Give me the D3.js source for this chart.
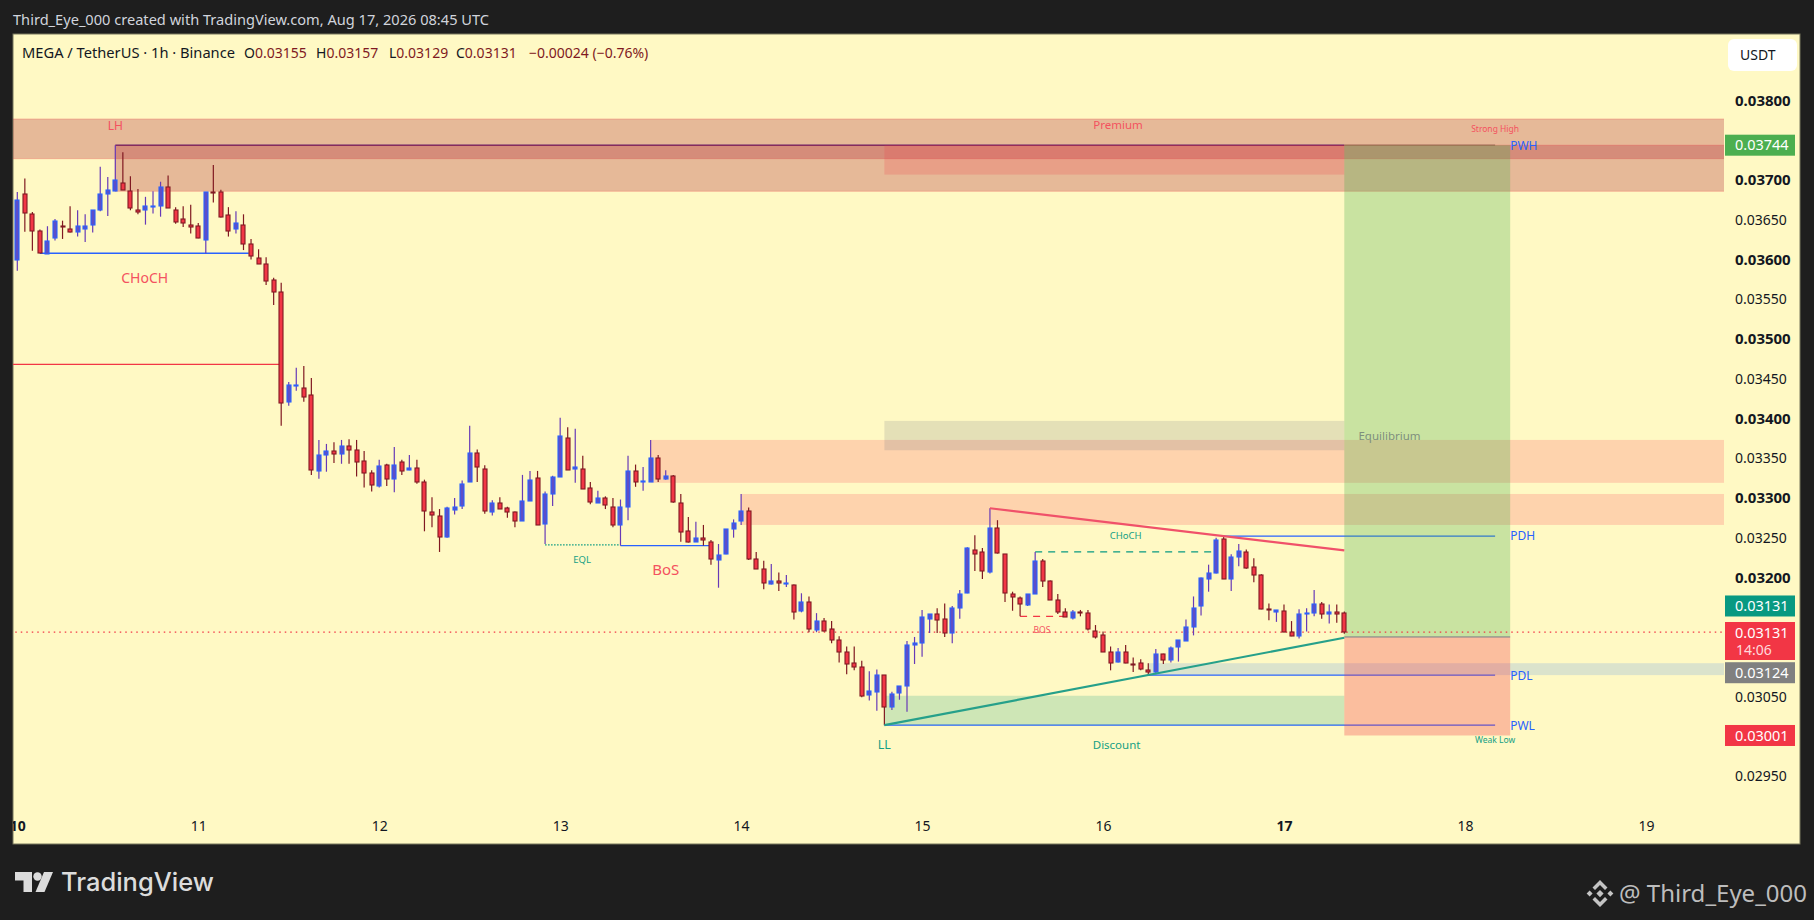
<!DOCTYPE html>
<html>
<head>
<meta charset="utf-8">
<title>MEGA / TetherUS</title>
<script src="https://cdnjs.cloudflare.com/ajax/libs/d3/7.8.5/d3.min.js"></script>
<style>
	html, body { margin: 0; padding: 0; background: #1e1e1e; }
	svg { display: block; }
	text { font-family: "Noto Sans", sans-serif; }
</style>
</head>
<body>
<svg id="chart" width="1814" height="920"></svg>
<script>
// all prices are in 0.00001 USDT (the chart's tick size), one candle per hour from Aug 10 00:00
const opens = [
	3599,3683,3657,3636,3608,3628,3642,3638,3635,3638,
	3643,3662,3682,3686,3697,3686,3662,3662,3667,3667,
	3691,3663,3651,3644,3642,3625,3685,3685,3656,3638,
	3644,3619,3602,3595,3574,3559,3420,3441,3439,3429,
	3334,3354,3359,3355,3365,3360,3346,3331,3315,3341,
	3325,3345,3335,3338,3320,3282,3277,3250,3285,3290,
	3320,3357,3337,3283,3294,3287,3282,3271,3296,3325,
	3267,3304,3327,3376,3336,3337,3312,3294,3300,3289,
	3266,3289,3334,3320,3320,3350,3323,3327,3294,3259,
	3245,3250,3245,3222,3229,3261,3270,3284,3223,3211,
	3191,3195,3192,3191,3158,3169,3134,3145,3135,3121,
	3106,3092,3087,3052,3056,3077,3037,3054,3063,3115,
	3117,3148,3154,3147,3130,3162,3180,3235,3232,3207,
	3262,3229,3179,3174,3165,3180,3221,3196,3171,3156,
	3150,3157,3155,3133,3127,3106,3093,3106,3091,3092,
	3083,3081,3103,3096,3112,3121,3137,3164,3198,3206,
	3248,3198,3226,3232,3213,3203,3160,3157,3158,3131,
	3126,3154,3155,3166,3154,3157,3155
];
const highs = [
	3685,3702,3660,3638,3642,3651,3649,3667,3662,3657,
	3662,3717,3704,3744,3735,3705,3689,3679,3686,3698,
	3706,3666,3667,3669,3646,3685,3719,3688,3666,3661,
	3657,3626,3613,3603,3577,3571,3446,3464,3466,3451,
	3373,3368,3370,3373,3374,3373,3359,3335,3348,3343,
	3364,3348,3354,3348,3323,3301,3286,3289,3300,3322,
	3391,3361,3341,3297,3301,3289,3283,3329,3334,3334,
	3308,3328,3401,3389,3387,3353,3320,3309,3302,3300,
	3298,3353,3342,3339,3373,3354,3335,3329,3305,3276,
	3270,3266,3247,3242,3261,3273,3305,3288,3232,3221,
	3217,3206,3203,3191,3180,3176,3155,3149,3145,3126,
	3113,3113,3095,3082,3084,3077,3056,3063,3120,3125,
	3159,3154,3161,3167,3164,3184,3238,3253,3237,3287,
	3272,3229,3182,3176,3179,3232,3223,3196,3179,3161,
	3159,3159,3159,3140,3132,3113,3111,3115,3099,3097,
	3092,3110,3104,3113,3121,3147,3176,3200,3216,3250,
	3253,3229,3242,3235,3224,3204,3167,3159,3166,3145,
	3160,3161,3184,3169,3166,3166,3157
];
const lows = [
	3586,3635,3611,3608,3608,3624,3626,3634,3629,3622,
	3634,3661,3655,3686,3688,3662,3657,3644,3658,3654,
	3665,3645,3641,3633,3627,3608,3672,3653,3629,3633,
	3612,3600,3595,3568,3543,3391,3416,3435,3421,3329,
	3324,3333,3344,3343,3343,3327,3313,3308,3313,3315,
	3307,3329,3335,3318,3258,3263,3232,3250,3279,3286,
	3320,3320,3280,3278,3287,3275,3263,3271,3296,3266,
	3242,3290,3327,3336,3319,3312,3292,3294,3286,3263,
	3240,3272,3314,3309,3320,3320,3323,3294,3245,3244,
	3245,3240,3216,3187,3229,3250,3266,3222,3211,3185,
	3191,3183,3188,3147,3156,3131,3131,3132,3117,3093,
	3078,3083,3049,3045,3032,3014,3033,3046,3031,3091,
	3100,3130,3130,3125,3117,3148,3180,3208,3198,3205,
	3230,3169,3158,3151,3164,3180,3188,3172,3154,3150,
	3147,3151,3133,3123,3106,3083,3093,3092,3081,3083,
	3077,3078,3091,3093,3094,3121,3127,3152,3182,3205,
	3198,3183,3214,3211,3194,3160,3146,3144,3131,3126,
	3123,3132,3151,3148,3142,3143,3129
];
const closes = [
	3675,3659,3636,3608,3624,3649,3641,3634,3642,3642,
	3662,3682,3687,3700,3688,3664,3660,3667,3668,3691,
	3665,3648,3646,3641,3627,3685,3684,3653,3636,3646,
	3620,3604,3595,3574,3559,3419,3442,3442,3428,3335,
	3354,3359,3355,3365,3360,3345,3331,3316,3340,3323,
	3342,3334,3338,3320,3283,3278,3250,3287,3289,3318,
	3356,3339,3284,3294,3287,3282,3271,3296,3323,3266,
	3305,3326,3378,3336,3339,3312,3294,3300,3291,3266,
	3289,3334,3320,3321,3350,3323,3327,3294,3258,3245,
	3250,3247,3223,3228,3261,3269,3283,3224,3211,3193,
	3195,3192,3193,3157,3169,3135,3145,3133,3121,3106,
	3091,3087,3050,3057,3077,3037,3053,3063,3115,3117,
	3150,3154,3147,3130,3161,3179,3237,3230,3208,3262,
	3230,3180,3175,3166,3179,3221,3196,3172,3156,3150,
	3157,3156,3135,3126,3106,3092,3106,3092,3090,3084,
	3080,3104,3095,3111,3121,3138,3161,3199,3206,3247,
	3198,3226,3233,3212,3203,3160,3159,3159,3132,3126,
	3154,3155,3166,3154,3156,3155,3131
];

const priceTicks = [3800,3750,3700,3650,3600,3550,3500,3450,3400,3350,3300,3250,3200,3150,3100,3050,3000,2950];
const boldTicks = [3800,3700,3600,3500,3400,3300,3200];
const hiddenTicks = [3750,3150,3100,3000];
const dayHours = [0,24,48,72,96,120,144,168,192,216];
const dayLabels = ['10','11','12','13','14','15','16','17','18','19'];
const boldDays = ['10','17'];

// zones: [start hour, end hour, top price, bottom price]
const supplyBands = [[-1,227,3777,3727],[13,227,3744,3686]];
const redBand = [115,176,3744,3707];
const peachZones = [[84,227,3373,3319],[96,227,3305,3266]];
const equilibriumZone = [115,176,3397,3360];
const discountZone = [115,176,3051,3014];
const lowZone = [150,227,3092,3077];
const longBox = [176,198,3744,3125];
const shortBox = [176,198,3125,3001];

// lines: [start hour, end hour, price]
const blueLines = [[3,30.7,3608],[80,92,3240],[160,196,3252],[150,196,3077],[115,196,3014]];
const lastHighLine = [13,176,3744];
const lastHighTail = [176,196,3744];
const redLine = [-1,35,3468];
const lastPriceLine = [-1,227,3131];
const eqlLine = [70,80,3241];
const chochLine = [135,158.6,3232];
const bosLine = [133,139,3151];
const fallingTrend = [129,3287,176,3234];
const risingTrend = [115,3014,176,3124];

const labelsRed = [['LH',13,3769,12],['Premium',146,3769,11.5],['Strong High',196,3764,8.5],['CHoCH',16.9,3577,14],['BoS',86,3210,15],['BOS',135.9,3134,8.5]];
const labelsTeal = [['EQL',74.9,3222,9.5],['CHoCH',147,3252,9.5],['LL',115,2989,12.5],['Discount',145.8,2989,11.5],['Weak Low',196,2995,8.5]];
const labelsBlue = [['PWH',3743],['PDH',3252],['PDL',3076],['PWL',3013]];
const equilibriumLabel = ['Equilibrium',182,3378];

// price scale badges: text and the price level they are pinned to
const badgeTexts = ['0.03744','0.03131','0.03131','0.03124','0.03001'];
const badgeAnchors = [3744,3164,3125,3080,3001];
const legendLabels = ['O','H','L','C'];
const legendValues = ['0.03155','0.03157','0.03129','0.03131'];

const plot = {left: 13, right: 1724, top: 34, bottom: 844, edge: 1800};
const x = d3.scaleLinear().domain([0, 216]).range([17.3, 1645.9]);
const y = d3.scaleLinear().domain([2950, 3800]).range([776, 100.7]);

const svg = d3.select('#chart');
svg.append('rect').attr('width', 1814).attr('height', 920).attr('fill', '#1e1e1e');
svg.append('rect')
	.attr('x', plot.left).attr('y', plot.top)
	.attr('width', plot.edge - plot.left).attr('height', plot.bottom - plot.top)
	.attr('fill', '#fff9c4').attr('stroke', '#77765c').attr('stroke-width', 1);

const defs = svg.append('defs');
defs.append('clipPath').attr('id', 'paneClip').append('rect')
	.attr('x', plot.left).attr('y', plot.top)
	.attr('width', plot.right - plot.left).attr('height', plot.bottom - plot.top);
defs.append('clipPath').attr('id', 'timeClip').append('rect')
	.attr('x', plot.left).attr('y', plot.top)
	.attr('width', plot.edge - plot.left).attr('height', plot.bottom - plot.top);

const pane = svg.append('g').attr('clip-path', 'url(#paneClip)');

function drawHLine(g, d, color, width, dash) {
	g.append('line')
		.attr('x1', x(d[0])).attr('x2', x(d[1]))
		.attr('y1', y(d[2])).attr('y2', y(d[2]))
		.attr('stroke', color).attr('stroke-width', width)
		.attr('stroke-dasharray', dash || null);
}

function drawZone(g, d, fill, stroke) {
	g.append('rect')
		.attr('x', x(d[0])).attr('y', y(d[2]))
		.attr('width', x(d[1]) - x(d[0])).attr('height', y(d[3]) - y(d[2]))
		.attr('fill', fill)
		.attr('stroke', stroke || 'none').attr('stroke-width', 1);
}

// lines sit under the zones, the overlays tint them like in the picture
blueLines.forEach(d => drawHLine(pane, d, '#2962ff', 1.3));
drawHLine(pane, lastHighLine, '#3a2a90', 1.4);
drawHLine(pane, lastHighTail, '#8f9a70', 1.2);
drawHLine(pane, redLine, '#f23645', 1.2);

supplyBands.forEach(d => drawZone(pane, d, 'rgba(175,43,54,.31)', 'rgba(242,54,69,.25)'));
drawZone(pane, redBand, 'rgba(242,54,69,.2)');
peachZones.forEach(d => drawZone(pane, d, 'rgba(250,59,86,.2)'));
drawZone(pane, equilibriumZone, 'rgba(120,123,134,.2)');
drawZone(pane, discountZone, 'rgba(8,153,129,.2)');
drawZone(pane, lowZone, 'rgba(75,140,240,.2)');
drawZone(pane, longBox, 'rgba(76,175,80,.3)');
drawZone(pane, shortBox, 'rgba(242,54,69,.3)');
drawHLine(pane, [longBox[0], longBox[1], longBox[3]], '#787b86', 1);

drawHLine(pane, lastPriceLine, '#f23645', 1.2, '1.5 4');
drawHLine(pane, eqlLine, '#089981', 1.2, '1.5 1.5');
drawHLine(pane, chochLine, '#089981', 1.2, '7 6');
drawHLine(pane, bosLine, '#f23645', 1.2, '7 6');

// candles
const candles = opens.map((o, i) => ({i: i, o: o, h: highs[i], l: lows[i], c: closes[i]}));
const candleG = pane.selectAll('.candle')
	.data(candles).enter()
	.append('g')
	.attr('class', 'candle');

candleG.append('line')
	.attr('x1', d => x(d.i)).attr('x2', d => x(d.i))
	.attr('y1', d => y(d.h)).attr('y2', d => y(d.l))
	.attr('stroke', d => d.c >= d.o ? '#673ab7' : '#801922')
	.attr('stroke-width', 1.2);

candleG.append('rect')
	.attr('x', d => Math.round(x(d.i)) - 2)
	.attr('y', d => Math.round(y(Math.max(d.o, d.c))))
	.attr('width', 4)
	.attr('height', d => Math.max(1, Math.round(Math.abs(y(d.o) - y(d.c)))))
	.attr('fill', d => d.c >= d.o ? '#5c4fc8' : '#f23645')
	.attr('stroke', d => d.c >= d.o ? '#2962ff' : '#801922')
	.attr('stroke-width', 1.1);

// trend lines go over the candles
[[fallingTrend, '#f0516a'], [risingTrend, '#26a08a']].forEach(t => {
	pane.append('line')
		.attr('x1', x(t[0][0])).attr('y1', y(t[0][1]))
		.attr('x2', x(t[0][2])).attr('y2', y(t[0][3]))
		.attr('stroke', t[1]).attr('stroke-width', 2.2);
});

function drawLabels(rows, color) {
	rows.forEach(r => {
		svg.append('text')
			.attr('x', x(r[1])).attr('y', y(r[2]))
			.attr('dy', '0.35em')
			.attr('text-anchor', 'middle')
			.attr('font-size', r[3])
			.attr('fill', color)
			.text(r[0]);
	});
}
drawLabels(labelsRed, '#f4525f');
drawLabels(labelsTeal, '#14a085');
labelsBlue.forEach(r => {
	svg.append('text')
		.attr('x', x(198)).attr('y', y(r[1]))
		.attr('dy', '0.35em')
		.attr('font-size', 12)
		.attr('fill', '#2962ff')
		.text(r[0]);
});
svg.append('text')
	.attr('x', x(equilibriumLabel[1])).attr('y', y(equilibriumLabel[2]))
	.attr('dy', '0.35em').attr('text-anchor', 'middle')
	.attr('font-size', 11.5).attr('fill', '#7f8f7d')
	.text(equilibriumLabel[0]);

// price axis
const yAxis = d3.axisRight(y)
	.tickValues(priceTicks.filter(t => !hiddenTicks.includes(t)))
	.tickSize(0)
	.tickFormat(t => (t / 100000).toFixed(5));
const yAxisG = svg.append('g')
	.attr('transform', 'translate(1735,0)')
	.call(yAxis);
yAxisG.select('.domain').remove();
yAxisG.selectAll('text')
	.attr('x', 0)
	.attr('fill', '#131722')
	.style('font-family', '"Noto Sans", sans-serif')
	.style('font-size', d => boldTicks.includes(d) ? '15px' : '14px')
	.style('font-weight', d => boldTicks.includes(d) ? 700 : 400);

// time axis, the clip cuts the "10" at the pane edge
const xAxis = d3.axisBottom(x)
	.tickValues(dayHours)
	.tickSize(0)
	.tickFormat((t, i) => dayLabels[i]);
const xAxisG = svg.append('g')
	.attr('clip-path', 'url(#timeClip)')
	.append('g')
	.attr('transform', 'translate(0,821)')
	.call(xAxis);
xAxisG.select('.domain').remove();
xAxisG.selectAll('text')
	.attr('y', 0).attr('dy', '0.71em')
	.attr('fill', '#131722')
	.style('font-family', '"Noto Sans", sans-serif')
	.style('font-size', '14px')
	.style('font-weight', (t, i) => boldDays.includes(dayLabels[i]) ? 700 : 400);

// badges on the price scale
const badgeColors = ['#4caf50', '#089981', '#f23645', '#808080', '#f23645'];
const badgeHeights = [21, 21, 38, 21, 21];
badgeTexts.forEach((t, i) => {
	const cy = y(badgeAnchors[i]);
	const top = i === 2 ? 622 : cy - badgeHeights[i] / 2;
	svg.append('rect')
		.attr('x', 1725).attr('y', top)
		.attr('width', 70).attr('height', badgeHeights[i])
		.attr('fill', badgeColors[i]);
	svg.append('text')
		.attr('x', 1735).attr('y', top + 10.5)
		.attr('dy', '0.35em')
		.attr('font-size', 14.5).attr('fill', '#fff')
		.text(t);
});
svg.append('text')
	.attr('x', 1736).attr('y', 655)
	.attr('font-size', 14).attr('fill', '#ffd9dc')
	.text('14:06');

// USDT button
svg.append('rect')
	.attr('x', 1728).attr('y', 39).attr('width', 69).attr('height', 32).attr('rx', 6)
	.attr('fill', '#fff');
svg.append('text')
	.attr('x', 1740).attr('y', 55).attr('dy', '0.35em')
	.attr('font-size', 14).attr('fill', '#131722')
	.text('USDT');

// header and legend
svg.append('text')
	.attr('x', 13).attr('y', 20).attr('dy', '0.35em')
	.attr('font-size', 14.5).attr('fill', '#d1d4dc')
	.attr('textLength', 476).attr('lengthAdjust', 'spacingAndGlyphs')
	.text('Third_Eye_000 created with TradingView.com, Aug 17, 2026 08:45 UTC');

svg.append('text')
	.attr('x', 22).attr('y', 53).attr('dy', '0.35em')
	.attr('font-size', 14.5).attr('fill', '#131722')
	.attr('textLength', 213).attr('lengthAdjust', 'spacingAndGlyphs')
	.text('MEGA / TetherUS · 1h · Binance');

const legendX = [244, 316, 389, 456];
legendLabels.forEach((l, i) => {
	const row = svg.append('text')
		.attr('x', legendX[i]).attr('y', 53).attr('dy', '0.35em')
		.attr('font-size', 14).attr('fill', '#131722');
	row.append('tspan').text(l);
	row.append('tspan').attr('fill', '#801922').text(legendValues[i]);
});
svg.append('text')
	.attr('x', 529).attr('y', 53).attr('dy', '0.35em')
	.attr('font-size', 14).attr('fill', '#801922')
	.text('−0.00024 (−0.76%)');

// TradingView logo
const logo = svg.append('g').attr('fill', '#dcdcdc');
logo.append('path').attr('d', 'M15 872h17v20h-8.5v-11.5H15z');
logo.append('circle').attr('cx', 37.5).attr('cy', 876.5).attr('r', 4.2);
logo.append('path').attr('d', 'M44 872h9l-8.5 20h-9z');
svg.append('text')
	.attr('x', 61).attr('y', 882).attr('dy', '0.35em')
	.attr('font-size', 25.5).attr('font-weight', 500).attr('fill', '#dcdcdc')
	.style('font-family', 'Inter, sans-serif')
	.text('TradingView');

// Binance mark and handle
const mark = svg.append('g').attr('fill', '#c4c4c4');
mark.append('path').attr('d', 'M1600 880l7.5 7.5-2.5 2.5-5-5-5 5-2.5-2.5zM1600 907l-7.5-7.5 2.5-2.5 5 5 5-5 2.5 2.5zM1600 890l3.6 3.6-3.6 3.6-3.6-3.6z');
mark.append('path').attr('d', 'M1589.6 890.6l3 3-3 3-3-3zM1610.4 890.6l3 3-3 3-3-3z');
svg.append('text')
	.attr('x', 1619).attr('y', 894).attr('dy', '0.35em')
	.attr('font-size', 24).attr('fill', '#bdbdbd')
	.text('@ Third_Eye_000');
</script>
</body>
</html>
